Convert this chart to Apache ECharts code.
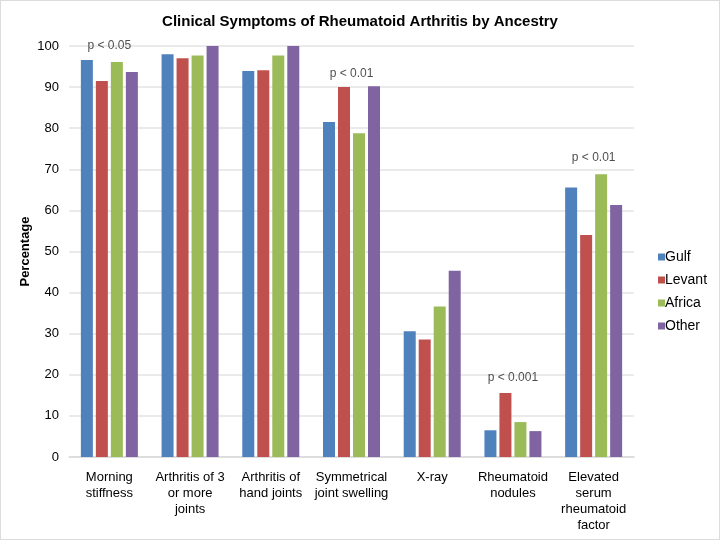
<!DOCTYPE html>
<html><head><meta charset="utf-8">
<script src="https://cdn.jsdelivr.net/npm/echarts@6/dist/echarts.min.js"></script>
<style>html,body{margin:0;padding:0;background:#fff}#c{width:720px;height:540px;box-sizing:border-box;border:1px solid #dcdcdc}</style>
</head><body><div id="c"></div>
<script>
const categories = ["Morning\nstiffness","Arthritis of 3\nor more\njoints","Arthritis of\nhand joints","Symmetrical\njoint swelling","X-ray","Rheumatoid\nnodules","Elevated\nserum\nrheumatoid\nfactor"];
const gulf   = [96.6, 98.0, 93.9, 81.5, 30.6, 6.5, 65.6];
const levant = [91.5, 97.0, 94.1, 90.0, 28.6, 15.6, 54.0];
const africa = [96.1, 97.7, 97.7, 78.8, 36.6, 8.5, 68.8];
const other  = [93.7, 100, 100, 90.2, 45.3, 6.3, 61.3];
const pCategoryIndex = [0, 3, 5, 6];
const pTexts = ["p < 0.05", "p < 0.01", "p < 0.001", "p < 0.01"];
const pY = [100, 93.2, 19.4, 72.9];

const chart = echarts.init(document.getElementById('c'));
const font = 'Liberation Sans, Arial, sans-serif';
const mk = (name, data, color) => ({name, type:'bar', data, barWidth:12, barGap:'25%', itemStyle:{color}});
chart.setOption({
  animation:false,
  textStyle:{fontFamily:font},
  title:{text:'Clinical Symptoms of Rheumatoid Arthritis by Ancestry', left:'center', top:8,
    textStyle:{fontFamily:font, fontSize:15, fontWeight:'bold', color:'#000'}},
  legend:{orient:'vertical', left:652, top:244, itemWidth:7, itemHeight:7, itemGap:9, icon:'rect',
    data:['Gulf','Levant','Africa','Other'], textStyle:{fontFamily:font, fontSize:14, color:'#000', padding:[0,0,0,-5]}},
  grid:{left:68, right:85, top:45, bottom:82, containLabel:false},
  xAxis:{type:'category', data:categories, axisTick:{show:false},
    axisLine:{lineStyle:{color:'#d9d9d9', width:1.5}},
    axisLabel:{interval:0, fontFamily:font, fontSize:13, color:'#000', lineHeight:16, margin:12}},
  yAxis:{type:'value', min:0, max:100, interval:10, name:'Percentage', nameLocation:'middle', nameGap:37,
    nameMoveOverlap:false,
    nameTextStyle:{fontFamily:font, fontSize:13, fontWeight:'bold', color:'#000'},
    axisLine:{show:false}, axisTick:{show:false},
    axisLabel:{fontFamily:font, fontSize:13, color:'#000', margin:10},
    splitLine:{lineStyle:{color:'#e3e3e3', width:1.5}}},
  series:[
    mk('Gulf', gulf, '#4F81BD'),
    mk('Levant', levant, '#C0504D'),
    mk('Africa', africa, '#9BBB59'),
    mk('Other', other, '#8064A2'),
    {type:'scatter', symbolSize:0, silent:true, z:10,
     data:pCategoryIndex.map((c,i)=>({value:[c, pY[i]], label:{formatter:pTexts[i]}})),
     label:{show:true, position:'inside', fontFamily:font, fontSize:12, color:'#222'}}
  ]
});
</script></body></html>
